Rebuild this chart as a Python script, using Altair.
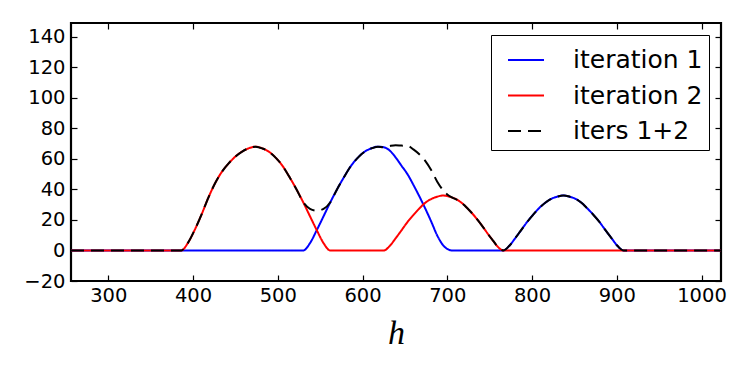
import altair as alt
import pandas as pd

# ---- data ----
series_names = ["iteration 1", "iteration 2", "iters 1+2"]
series_colors = ["#0000ff", "#ff0000", "#000000"]

blue_x = [256, 530, 538, 546, 554, 562, 570, 578, 586, 594, 602, 610, 618,
          625, 632, 639, 646, 653, 660, 667, 674, 681, 688, 695, 700, 706,
          766, 773, 780, 787, 794, 801, 808, 816, 823, 830, 837,
          844, 851, 858, 865, 872, 879, 886, 894, 901, 908, 1023]
blue_y = [0, 0, 4.8, 13.3, 22.4, 31.6, 40.1, 47.9, 55.1, 60.5, 64.5, 66.8, 68,
          67.6, 65.5, 61, 55.5, 50, 43, 35.5, 27.5, 19, 10, 3.5, 1, 0,
          0, 2.9, 7.9, 13.2, 18.5, 23.2, 27.5, 31.4, 33.9, 35.3, 36,
          35.3, 33.9, 31.4, 27.7, 23.6, 19.1, 13.8, 7.9, 2.9, 0, 0]

red_x = [256, 386, 394, 402, 410, 418, 426, 434, 442, 450, 458, 466, 474,
         482, 490, 498, 506, 514, 522, 530, 538, 546, 554, 562,
         625, 632, 639, 646, 653, 660, 667, 674, 681, 688, 695, 700, 706,
         712, 718, 724, 730, 736, 742, 748, 754, 760, 766, 1023]
red_y = [0, 0, 5, 13.5, 23.5, 34.5, 44, 51.5, 57, 61.5, 64.8, 67, 68,
         66.8, 64.5, 60.5, 55.1, 47.9, 40.1, 31.6, 22.4, 13.3, 4.8, 0,
         0, 2.9, 7.9, 13.2, 18.6, 23.2, 27.5, 31.2, 33.7, 35.2, 36, 35.6, 34.6,
         33.1, 30.7, 27.5, 23.9, 19.9, 15.5, 10.8, 6.4, 2.2, 0, 0]

sum_x = [256, 386, 394, 402, 410, 418, 426, 434, 442, 450, 458, 466, 474,
         482, 490, 498, 506, 514, 522, 530, 538, 546, 554, 562,
         570, 578, 586, 594, 602, 610, 618,
         625, 632, 639, 646, 653, 660, 667, 674, 681, 688, 695, 700, 706,
         712, 718, 724, 730, 736, 742, 748, 754, 760, 766,
         773, 780, 787, 794, 801, 808, 816, 823, 830, 837,
         844, 851, 858, 865, 872, 879, 886, 894, 901, 908, 1023]
sum_y = [0, 0, 5, 13.5, 23.5, 34.5, 44, 51.5, 57, 61.5, 64.8, 67, 68,
         66.8, 64.5, 60.5, 55.1, 47.9, 40.1, 31.6, 27.2, 26.0, 27.2, 31.6,
         40.1, 47.9, 55.1, 60.5, 64.5, 66.8, 68,
         67.6, 68.4, 68.9, 68.7, 68.6, 66.2, 63, 58.7, 52.7, 45.2, 39.5, 36.6, 34.6,
         33.1, 30.7, 27.5, 23.9, 19.9, 15.5, 10.8, 6.4, 2.2, 0,
         2.9, 7.9, 13.2, 18.5, 23.2, 27.5, 31.4, 33.9, 35.3, 36,
         35.3, 33.9, 31.4, 27.7, 23.6, 19.1, 13.8, 7.9, 2.9, 0, 0]

x_ticks = [300, 400, 500, 600, 700, 800, 900, 1000]
y_ticks = [-20, 0, 20, 40, 60, 80, 100, 120, 140]
x_domain = [256, 1023]
y_domain = [-20, 149]

df = pd.concat([
    pd.DataFrame({"h": blue_x, "v": blue_y, "series": series_names[0]}),
    pd.DataFrame({"h": red_x, "v": red_y, "series": series_names[1]}),
    pd.DataFrame({"h": sum_x, "v": sum_y, "series": series_names[2]}),
], ignore_index=True)

TICK = 6
LW = 2.0

def xenc(axis):
    return alt.X("h:Q", scale=alt.Scale(domain=x_domain, nice=False, zero=False), axis=axis)

def yenc(axis):
    return alt.Y("v:Q", scale=alt.Scale(domain=y_domain, nice=False, zero=False), axis=axis)

color = alt.Color("series:N",
                  scale=alt.Scale(domain=series_names, range=series_colors),
                  legend=alt.Legend(
                      title=None, orient="none", legendX=420, legendY=12,
                      symbolType="stroke", symbolSize=1296, symbolStrokeWidth=LW,
                      symbolOffset=10,
                      labelFontSize=25, labelFont="DejaVu Sans", labelColor="black",
                      labelOffset=28, padding=6, rowPadding=3.5,
                      fillColor="white", strokeColor="black",
                  ))
dash = alt.StrokeDash("series:N",
                      scale=alt.Scale(domain=series_names, range=[[1, 0], [1, 0], [13, 7]]),
                      legend=None)

x_bottom = alt.Axis(values=x_ticks, format="d", domain=False, grid=False, tickSize=TICK,
                    offset=-TICK, tickColor="black", tickWidth=1.2, labelFontSize=19.5,
                    labelFont="DejaVu Sans", labelColor="black", labelPadding=5,
                    title="h", titleFont="Liberation Serif", titleFontStyle="italic",
                    titleFontWeight="normal", titleFontSize=34, titleColor="black",
                    titlePadding=12)
y_left = alt.Axis(values=y_ticks, format="d", domain=False, grid=False, tickSize=TICK,
                  offset=-TICK, tickColor="black", tickWidth=1.2, labelFontSize=19.5,
                  labelFont="DejaVu Sans", labelColor="black", labelPadding=6, title=None)
x_top = alt.Axis(values=x_ticks, orient="top", domain=False, grid=False, tickSize=TICK,
                 offset=-TICK, tickColor="black", tickWidth=1.2, labels=False, title=None)
y_right = alt.Axis(values=y_ticks, orient="right", domain=False, grid=False, tickSize=TICK,
                   offset=-TICK, tickColor="black", tickWidth=1.2, labels=False, title=None)

base = alt.Chart(df)

blue = base.transform_filter(alt.datum.series == series_names[0]).mark_line(
    strokeWidth=LW, interpolate="monotone").encode(
    x=xenc(x_bottom), y=yenc(y_left), color=color, strokeDash=dash)
red = base.transform_filter(alt.datum.series == series_names[1]).mark_line(
    strokeWidth=LW, interpolate="monotone").encode(
    x=xenc(x_top), y=yenc(y_right), color=color, strokeDash=dash)
black = base.transform_filter(alt.datum.series == series_names[2]).mark_line(
    strokeWidth=LW, interpolate="monotone").encode(
    x=xenc(None), y=yenc(None), color=color, strokeDash=dash)

chart = alt.layer(blue, red, black).resolve_axis(x="independent", y="independent").properties(
    width=650, height=258,
    autosize=alt.AutoSizeParams(type="none"),
    padding={"left": 63, "top": 15, "right": 20, "bottom": 80},
    background="white",
).configure_view(stroke="black", strokeWidth=2.2)

chart.save("out.html", embed_options={"renderer": "svg", "actions": False})
